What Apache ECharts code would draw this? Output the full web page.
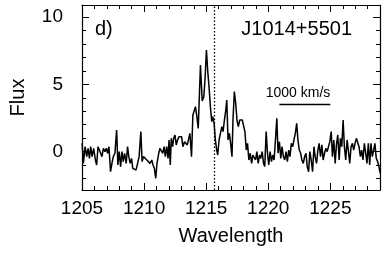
<!DOCTYPE html>
<html><head><meta charset="utf-8">
<script src="https://cdn.jsdelivr.net/npm/echarts@6/dist/echarts.min.js"></script>
<style>html,body{margin:0;padding:0;background:#fff}#c{width:383px;height:271px}</style>
</head><body><div id="c"></div>
<script>
const wavelength = [
1205.01,1205.11,1205.25,1205.38,1205.49,1205.60,1205.70,1205.81,1205.94,1206.08,
1206.18,1206.29,1206.40,1206.50,1206.61,1206.72,1206.85,1206.96,1207.06,1207.17,
1207.30,1207.41,1207.52,1207.65,1207.79,1207.89,1208.00,1208.11,1208.22,1208.32,
1208.43,1208.56,1208.67,1208.77,1208.88,1208.99,1209.09,1209.23,1209.36,1209.47,
1209.60,1209.74,1209.84,1209.95,1210.08,1210.22,1210.35,1210.48,1210.62,1210.72,
1210.83,1210.94,1211.04,1211.18,1211.28,1211.39,1211.50,1211.61,1211.71,1211.82,
1211.93,1212.01,1212.11,1212.19,1212.30,1212.38,1212.49,1212.59,1212.70,1212.81,
1212.91,1213.02,1213.13,1213.26,1213.37,1213.48,1213.58,1213.69,1213.82,1213.93,
1214.04,1214.14,1214.25,1214.36,1214.54,1214.68,1214.81,1214.92,1215.02,1215.13,
1215.24,1215.34,1215.45,1215.53,1215.64,1215.74,1215.85,1215.93,1216.04,1216.15,
1216.26,1216.36,1216.47,1216.58,1216.66,1216.76,1216.87,1216.97,1217.08,1217.16,
1217.27,1217.38,1217.48,1217.59,1217.70,1217.80,1217.91,1218.01,1218.12,1218.23,
1218.33,1218.44,1218.55,1218.66,1218.76,1218.87,1218.98,1219.08,1219.19,1219.30,
1219.40,1219.51,1219.62,1219.72,1219.83,1219.94,1220.04,1220.15,1220.26,1220.36,
1220.47,1220.58,1220.69,1220.79,1220.90,1221.01,1221.11,1221.22,1221.33,1221.43,
1221.54,1221.65,1221.75,1221.86,1221.97,1222.07,1222.18,1222.29,1222.39,1222.50,
1222.61,1222.71,1222.82,1222.93,1223.04,1223.14,1223.25,1223.35,1223.46,1223.57,
1223.68,1223.78,1223.89,1224.00,1224.10,1224.21,1224.32,1224.42,1224.53,1224.64,
1224.75,1224.85,1224.96,1225.07,1225.17,1225.28,1225.39,1225.49,1225.60,1225.71,
1225.81,1225.92,1226.03,1226.13,1226.24,1226.35,1226.45,1226.56,1226.67,1226.78,
1226.88,1226.99,1227.10,1227.20,1227.31,1227.42,1227.52,1227.63,1227.74,1227.85,
1227.95,1228.06,1228.17,1228.27,1228.38,1228.49,1228.59,1228.70,1228.81,1228.91,
1229.02
];
const flux = [
0.62,-0.87,0.37,-0.37,0.25,-0.50,0.37,-0.37,0.25,-0.62,
-0.99,0.37,0.12,0.25,-0.37,0.25,0.00,0.25,-0.12,0.37,
-1.49,-0.87,-0.37,-0.12,1.61,-0.99,0.00,-1.11,0.00,-0.74,
-0.12,-0.87,0.37,-0.37,-0.87,-0.50,-1.24,-1.36,-1.36,-1.36,
-0.37,1.49,-0.74,-0.37,-0.50,-0.62,-0.74,-0.87,-0.62,-0.99,
-1.24,-1.98,-0.87,-0.12,0.25,0.37,-0.12,0.37,-0.37,0.37,
-0.50,0.87,-0.99,0.99,0.37,0.99,1.24,0.50,0.87,1.11,
0.99,1.11,0.37,0.74,0.87,0.50,0.62,1.36,-0.37,2.72,
2.60,3.34,2.60,1.73,6.44,3.76,4.08,5.57,7.55,5.94,
4.70,3.34,2.23,2.60,2.10,0.87,0.12,-0.25,0.87,1.36,
1.86,1.49,2.35,3.09,3.84,0.87,1.36,0.62,-0.37,2.35,
4.46,3.59,2.35,1.86,2.35,2.48,2.35,2.48,1.49,0.12,
0.62,-0.62,-0.12,-0.87,-0.25,-0.37,-0.62,0.00,-0.87,-0.25,
-0.50,0.00,-0.87,-1.11,1.49,-0.12,-0.99,0.00,-0.74,-0.25,
-0.62,0.87,2.48,-0.12,0.74,-0.50,0.37,-0.37,-0.62,0.00,
-0.74,0.12,-0.37,0.62,0.37,0.87,1.36,2.10,0.87,0.12,
-0.12,-0.62,-0.87,-0.37,-0.12,-1.11,-1.49,0.00,-0.62,-1.49,
0.37,-0.37,-0.87,0.12,0.62,-0.37,0.50,-0.62,-0.12,0.25,
0.00,0.37,0.74,1.49,-0.37,0.87,-0.87,0.50,1.24,-0.62,
0.99,0.37,2.35,0.37,-0.62,0.87,0.12,-0.87,0.37,0.62,
0.12,0.62,0.99,0.87,0.37,-0.37,0.12,-0.62,0.62,-0.12,
-0.87,0.62,-0.99,0.62,-0.37,0.12,0.62,-0.50,-0.74,-1.11,
-1.61
];
const xRange = [1205, 1229];
const yRange = [-2.85, 10.9];
const lyaWavelength = 1215.67;
const scaleBarX = [1220.9, 1225.0];
const scaleBarFlux = 3.52;
const scaleBarText = '1000 km/s';
const scaleTextAt = [1222.4, 4.33];
const panelLabel = 'd)';
const objectName = 'J1014+5501';

const FONT = "'Liberation Sans', Arial, Helvetica, sans-serif";
const chart = echarts.init(document.getElementById('c'), null, {renderer: 'canvas'});

function xAx(pos, labels) {
  return {
    type: 'value', position: pos, min: xRange[0], max: xRange[1],
    minInterval: 5, maxInterval: 5, splitNumber: 5,
    axisLine: {show: true, onZero: false, lineStyle: {color: '#000', width: 1.2}},
    axisTick: {show: true, inside: true, length: 7, lineStyle: {color: '#000', width: 1}},
    minorTick: {show: true, splitNumber: 5, length: 4, lineStyle: {color: '#000', width: 1}},
    splitLine: {show: false},
    axisLabel: {show: labels, color: '#000', fontSize: 19, fontFamily: FONT, margin: 9,
      formatter: v => (Math.abs(v % 5) < 1e-6 ? String(v) : '')},
    name: labels ? 'Wavelength' : '', nameLocation: 'middle', nameGap: 36,
    nameTextStyle: {color: '#000', fontSize: 20, fontFamily: FONT}
  };
}
function yAx(pos, labels) {
  return {
    type: 'value', position: pos, min: yRange[0], max: yRange[1],
    minInterval: 5, maxInterval: 5, splitNumber: 3,
    axisLine: {show: true, onZero: false, lineStyle: {color: '#000', width: 1.2}},
    axisTick: {show: true, inside: true, length: 7, lineStyle: {color: '#000', width: 1}},
    minorTick: {show: true, splitNumber: 5, length: 4, lineStyle: {color: '#000', width: 1}},
    splitLine: {show: false},
    axisLabel: {show: labels, color: '#000', fontSize: 19, fontFamily: FONT, margin: 19,
      formatter: v => (Math.abs(v % 5) < 1e-6 ? String(v) : '')},
    name: labels ? 'Flux' : '', nameLocation: 'middle', nameGap: 54,
    nameTextStyle: {color: '#000', fontSize: 20, fontFamily: FONT}
  };
}

chart.setOption({
  animation: false,
  backgroundColor: '#fff',
  grid: {left: 82, right: 2, top: 5, bottom: 81, containLabel: false},
  xAxis: [xAx('bottom', true), xAx('top', false)],
  yAxis: [yAx('left', true), yAx('right', false)],
  series: [{
    type: 'line', xAxisIndex: 0, yAxisIndex: 0,
    data: wavelength.map((w, i) => [w, flux[i]]),
    showSymbol: false, symbol: 'none',
    lineStyle: {color: '#000', width: 1.5},
    markLine: {
      silent: true, symbol: 'none', animation: false,
      data: [
        {xAxis: lyaWavelength, lineStyle: {type: [1.5, 2], color: '#000', width: 1.3}, label: {show: false}},
        [
          {coord: [scaleBarX[0], scaleBarFlux], lineStyle: {type: 'solid', color: '#000', width: 1.3}, label: {show: false}},
          {coord: [scaleBarX[1], scaleBarFlux]}
        ]
      ]
    },
    markPoint: {
      silent: true, animation: false, symbol: 'rect', symbolSize: [2, 2],
      itemStyle: {color: 'rgba(0,0,0,0)'},
      data: [{coord: scaleTextAt, label: {show: true, position: 'inside', formatter: scaleBarText,
        color: '#000', fontSize: 14, fontFamily: FONT}}]
    }
  }],
  graphic: [
    {type: 'text', left: 95, top: 19, style: {text: panelLabel, fill: '#000', font: '20px ' + FONT}},
    {type: 'text', right: 31, top: 19, style: {text: objectName, fill: '#000', font: '20px ' + FONT}}
  ]
});
</script></body></html>
